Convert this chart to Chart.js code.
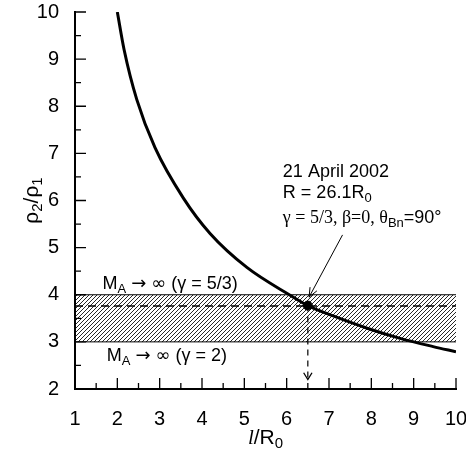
<!DOCTYPE html>
<html>
<head>
<meta charset="utf-8">
<script src="https://cdn.jsdelivr.net/npm/chart.js@4/dist/chart.umd.min.js"></script>
<style>
  html, body { margin: 0; padding: 0; background: #fff; }
  #wrap { width: 466px; height: 454px; }
</style>
</head>
<body>
<div id="wrap"><canvas id="chart" width="466" height="454"></canvas></div>
<script>
// compression curve rho2/rho1 vs l/R0
const curveX = [2, 2.16, 2.46, 2.89, 3.56, 4.19, 5.06, 6.1, 6.5, 7.1, 7.9, 8.7, 9.46, 10];
const curveY = [10, 9.2, 8.14, 7.12, 6.05, 5.3, 4.58, 3.98, 3.77, 3.55, 3.29, 3.07, 2.9, 2.79];

// M_A -> infinity limits (gamma = 5/3 top, gamma = 2 bottom)
const bandX = [1, 10];
const bandTop = 4;
const bandBottom = 3;
const dashedLevel = 3.76;

// the 21 April 2002 event
const eventX = 6.5;
const eventY = 3.77;
const arrowEndY = 2.2;

const xTicks = [1, 2, 3, 4, 5, 6, 7, 8, 9, 10];
const yTicks = [2, 3, 4, 5, 6, 7, 8, 9, 10];

const SANS = '"Liberation Sans", Arial, Helvetica, sans-serif';
const SERIF = '"Liberation Serif", "Times New Roman", serif';
const SYM = '"DejaVu Sans", sans-serif';

// hatch pattern for the band
function makeHatch() {
  const p = 4;
  const c = document.createElement('canvas');
  c.width = p; c.height = p;
  const g = c.getContext('2d');
  g.strokeStyle = '#000';
  g.lineWidth = 0.85;
  g.beginPath();
  g.moveTo(0, p); g.lineTo(p, 0);
  g.moveTo(-1, 1); g.lineTo(1, -1);
  g.moveTo(p - 1, p + 1); g.lineTo(p + 1, p - 1);
  g.stroke();
  return g.createPattern(c, 'repeat');
}

// draw text made of pieces with different fonts / offsets
function drawRich(ctx, x, y, parts) {
  let cx = x;
  parts.forEach((p) => {
    ctx.font = p.font;
    ctx.fillText(p.t, cx, y + (p.dy || 0));
    cx += ctx.measureText(p.t).width;
  });
  return cx;
}
function richWidth(ctx, parts) {
  let w = 0;
  parts.forEach((p) => { ctx.font = p.font; w += ctx.measureText(p.t).width; });
  return w;
}

function arrowHead(ctx, x0, y0, x1, y1, len, spread) {
  const a = Math.atan2(y1 - y0, x1 - x0);
  ctx.beginPath();
  ctx.moveTo(x1 - len * Math.cos(a - spread), y1 - len * Math.sin(a - spread));
  ctx.lineTo(x1, y1);
  ctx.lineTo(x1 - len * Math.cos(a + spread), y1 - len * Math.sin(a + spread));
  ctx.stroke();
}

const mLabel = (rest) => [
  { t: 'M', font: '18px ' + SANS },
  { t: 'A', font: '13px ' + SANS, dy: 4 },
  { t: ' ', font: '18px ' + SANS },
  { t: '→', font: '18px ' + SYM },
  { t: ' ', font: '18px ' + SANS },
  { t: '∞', font: '18px ' + SYM },
  { t: rest, font: '18px ' + SANS }
];

const decor = {
  id: 'decor',
  afterDraw(chart) {
    const ctx = chart.ctx;
    const xs = chart.scales.x, ys = chart.scales.y;
    const area = chart.chartArea;
    ctx.save();
    ctx.setLineDash([]);
    ctx.globalAlpha = 1;
    ctx.strokeStyle = '#000';
    ctx.fillStyle = '#000';

    // inward ticks
    ctx.lineWidth = 1.3;
    ctx.beginPath();
    for (let i = 0; i <= 18; i++) {
      const px = xs.getPixelForValue(1 + i * 0.5);
      const len = i % 2 === 0 ? 11 : 6;
      ctx.moveTo(px, area.bottom);
      ctx.lineTo(px, area.bottom - len);
    }
    for (let i = 0; i <= 16; i++) {
      const py = ys.getPixelForValue(2 + i * 0.5);
      const len = i % 2 === 0 ? 11 : 6;
      ctx.moveTo(area.left, py);
      ctx.lineTo(area.left + len, py);
    }
    ctx.stroke();

    // arrow head of the vertical dashed line
    const vx = xs.getPixelForValue(eventX), vy = ys.getPixelForValue(arrowEndY);
    arrowHead(ctx, vx, vy - 20, vx, vy, 8, 0.55);

    // annotation arrow
    const ax0 = xs.getPixelForValue(7.32), ay0 = ys.getPixelForValue(5.27);
    const ax1 = xs.getPixelForValue(6.53), ay1 = ys.getPixelForValue(3.95);
    ctx.lineWidth = 1;
    ctx.beginPath(); ctx.moveTo(ax0, ay0); ctx.lineTo(ax1, ay1); ctx.stroke();
    arrowHead(ctx, ax0, ay0, ax1, ay1, 10, 0.4);

    // annotation text
    ctx.textBaseline = 'alphabetic';
    ctx.textAlign = 'left';
    const tx = xs.getPixelForValue(5.91);
    drawRich(ctx, tx, ys.getPixelForValue(6.5), [{ t: '21 April 2002', font: '18px ' + SANS }]);
    drawRich(ctx, tx, ys.getPixelForValue(6.05), [
      { t: 'R = 26.1R', font: '18px ' + SANS },
      { t: '0', font: '13px ' + SANS, dy: 4 }
    ]);
    drawRich(ctx, tx, ys.getPixelForValue(5.52), [
      { t: 'γ = 5/3, β=0, θ', font: '18px ' + SERIF },
      { t: 'Bn', font: '13px ' + SANS, dy: 4 },
      { t: '=90°', font: '18px ' + SANS }
    ]);

    drawRich(ctx, xs.getPixelForValue(1.65), ys.getPixelForValue(4.13), mLabel(' (γ = 5/3)'));
    drawRich(ctx, xs.getPixelForValue(1.75), ys.getPixelForValue(2.6), mLabel(' (γ = 2)'));

    // axis titles
    const xt = [
      { t: 'l', font: 'italic 21px ' + SERIF },
      { t: '/R', font: '21px ' + SANS },
      { t: '0', font: '15px ' + SANS, dy: 4 }
    ];
    const xw = richWidth(ctx, xt);
    drawRich(ctx, (area.left + area.right) / 2 - xw / 2, 444, xt);

    const yt = [
      { t: 'ρ', font: '21px ' + SANS },
      { t: '2', font: '15px ' + SANS, dy: 4 },
      { t: '/ρ', font: '21px ' + SANS },
      { t: '1', font: '15px ' + SANS, dy: 4 }
    ];
    const yw = richWidth(ctx, yt);
    ctx.translate(38, (area.top + area.bottom) / 2);
    ctx.rotate(-Math.PI / 2);
    drawRich(ctx, -yw / 2, 0, yt);
    ctx.restore();
  }
};

const hatch = makeHatch();
const pts = (xa, ya) => xa.map((x, i) => ({ x: x, y: ya[i] }));

new Chart(document.getElementById('chart'), {
  type: 'line',
  data: {
    datasets: [
      {
        data: pts(bandX, bandX.map(() => bandTop)),
        borderColor: '#000', borderWidth: 1, pointRadius: 0,
        fill: '+1', backgroundColor: hatch
      },
      {
        data: pts(bandX, bandX.map(() => bandBottom)),
        borderColor: '#000', borderWidth: 1, pointRadius: 0, fill: false
      },
      {
        data: pts(bandX, bandX.map(() => dashedLevel)),
        borderColor: '#000', borderWidth: 1.6, borderDash: [8, 5], pointRadius: 0, fill: false
      },
      {
        data: pts(curveX, curveY),
        borderColor: '#000', borderWidth: 3, pointRadius: 0, fill: false,
        cubicInterpolationMode: 'monotone'
      },
      {
        data: [{ x: eventX, y: eventY }, { x: eventX, y: arrowEndY }],
        borderColor: '#000', borderWidth: 1.2, borderDash: [6, 5], pointRadius: 0, fill: false
      },
      {
        data: [{ x: eventX, y: eventY }],
        showLine: false, pointRadius: 4.5, pointBackgroundColor: '#000', pointBorderColor: '#000'
      }
    ]
  },
  options: {
    responsive: false,
    animation: false,
    layout: { padding: { top: 12, right: 10, left: 0, bottom: 0 } },
    plugins: { legend: { display: false }, tooltip: { enabled: false } },
    scales: {
      x: {
        type: 'linear', min: 1, max: 10,
        afterBuildTicks: (s) => { s.ticks = xTicks.map((v) => ({ value: v })); },
        afterFit: (s) => { s.height = 65; s.paddingLeft = 0; s.paddingRight = 0; },
        grid: { display: false },
        border: { display: true, color: '#000', width: 2 },
        ticks: { color: '#000', padding: 10, maxRotation: 0, font: { family: SANS, size: 20 } }
      },
      y: {
        type: 'linear', min: 2, max: 10,
        afterBuildTicks: (s) => { s.ticks = yTicks.map((v) => ({ value: v })); },
        afterFit: (s) => { s.width = 75; s.paddingTop = 0; s.paddingBottom = 0; },
        grid: { display: false },
        border: { display: true, color: '#000', width: 2 },
        ticks: { color: '#000', padding: 8, font: { family: SANS, size: 20 } }
      }
    }
  },
  plugins: [decor]
});
</script>
</body>
</html>
